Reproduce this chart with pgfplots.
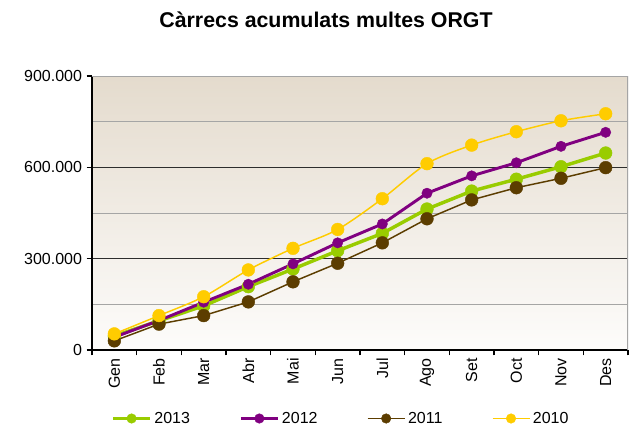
\documentclass[border=0pt]{standalone}
\usepackage{pgfplots}
\pgfplotsset{compat=1.18}
\usepackage{fontspec}
\setmainfont{Liberation Sans}

\definecolor{c2013}{RGB}{153,204,0}
\definecolor{c2012}{RGB}{128,0,128}
\definecolor{c2011}{RGB}{92,61,0}
\definecolor{c2010}{RGB}{255,204,0}
\definecolor{gridmajor}{RGB}{45,45,45}
\definecolor{gridminor}{RGB}{165,165,165}
\definecolor{bgtop}{RGB}{228,219,205}
\definecolor{bgmid}{RGB}{238,231,223}
\definecolor{bgbot}{RGB}{253,252,251}

\begin{document}
\begin{tikzpicture}
\begin{scope}[x=0.75pt,y=0.75pt]
  \path[use as bounding box] (-92,-78) rectangle (544,350);
  \node[font=\bfseries\fontsize{16}{18}\selectfont] at (234,330) {Càrrecs acumulats multes ORGT};
\end{scope}
\begin{axis}[
  at={(0,0)}, anchor=south west,
  scale only axis, width=402pt, height=205.5pt,
  xmin=-0.5, xmax=11.5, ymin=0, ymax=900000,
  axis lines=left, axis line style={-, black, line width=0.8pt},
  axis background/.style={top color=bgtop, middle color=bgmid, bottom color=bgbot},
  xtick={-0.5,0.5,...,11.5}, x tick label as interval,
  xticklabels={Gen,Feb,Mar,Abr,Mai,Jun,Jul,Ago,Set,Oct,Nov,Des},
  xticklabel style={rotate=90, anchor=east, inner sep=2pt},
  ytick={0,300000,600000},
  minor ytick={150000,450000,750000},
  extra y ticks={900000}, extra y tick style={grid=none},
  ymajorgrids, yminorgrids,
  major grid style={gridmajor, line width=0.8pt},
  minor grid style={gridminor, line width=0.75pt},
  scaled y ticks=false,
  yticklabel style={/pgf/number format/.cd, fixed, 1000 sep={.}, assume math mode=true},
  ticklabel style={font=\fontsize{12}{14}\selectfont},
  tick align=outside, major tick length=4pt, minor tick length=0pt,
  tick style={black, line width=0.8pt},
  legend columns=4,
  legend style={at={(0.465,-0.25)}, anchor=center, draw=none, fill=none,
    font=\fontsize{12}{14}\selectfont,
    /tikz/every even column/.append style={column sep=35pt}},
  legend image code/.code={%
    \draw[mark repeat=2, mark phase=2, #1, mark size=3.6pt]
      plot coordinates {(0pt,0pt) (13.9pt,0pt) (27.75pt,0pt)};},
]
% grey frame along the top and right edges
\draw[gridminor, line width=0.8pt] (rel axis cs:0,1) -- (rel axis cs:1,1) -- (rel axis cs:1,0);

\addplot[c2013, line width=2.6pt, mark=*, mark size=4.8pt, mark options={line width=0.3pt}]
  coordinates {(0,46000) (1,96000) (2,145000) (3,208000) (4,266000) (5,326000)
               (6,383000) (7,463000) (8,522000) (9,561000) (10,602000) (11,647000)};
\addplot[c2012, line width=2.2pt, mark=*, mark size=3.9pt, mark options={line width=0.3pt}]
  coordinates {(0,42000) (1,97000) (2,157000) (3,216000) (4,283000) (5,352000)
               (6,414000) (7,515000) (8,572000) (9,615000) (10,669000) (11,715000)};
\addplot[c2011, line width=1.1pt, mark=*, mark size=4.8pt, mark options={line width=0.3pt}]
  coordinates {(0,30000) (1,85000) (2,113000) (3,158000) (4,224000) (5,285000)
               (6,352000) (7,431000) (8,493000) (9,533000) (10,564000) (11,599000)};
\addplot[c2010, line width=1.1pt, smooth, mark=*, mark size=4.8pt, mark options={line width=0.3pt}]
  coordinates {(0,53000) (1,113000) (2,175000) (3,263000) (4,334000) (5,396000)
               (6,497000) (7,612000) (8,673000) (9,717000) (10,753000) (11,776000)};
\legend{2013,2012,2011,2010}
\end{axis}
\end{tikzpicture}
\end{document}
